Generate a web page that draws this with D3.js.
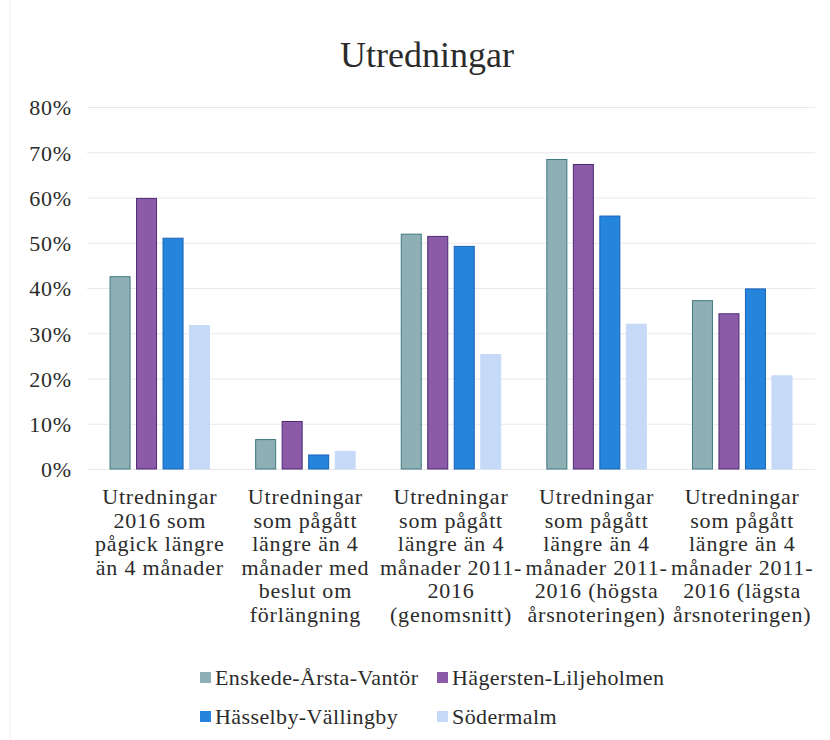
<html>
  <head>
    <script src="https://cdnjs.cloudflare.com/ajax/libs/d3/7.8.5/d3.min.js"></script>
    <style>
      body {
        margin: 0;
        background: #fff;
      }
      text {
        font-family: "Liberation Serif", "Times New Roman", serif;
        fill: #2b2b2b;
      }
    </style>
  </head>
  <body>
    <div id="container"></div>
    <script>
      const categories = [
        ["Utredningar", "2016 som", "pågick längre", "än 4 månader"],
        ["Utredningar", "som pågått", "längre än 4", "månader med", "beslut om", "förlängning"],
        ["Utredningar", "som pågått", "längre än 4", "månader 2011-", "2016", "(genomsnitt)"],
        ["Utredningar", "som pågått", "längre än 4", "månader 2011-", "2016  (högsta", "årsnoteringen)"],
        ["Utredningar", "som pågått", "längre än 4", "månader 2011-", "2016  (lägsta", "årsnoteringen)"],
      ];
      const seriesNames = [
        "Enskede-Årsta-Vantör",
        "Hägersten-Liljeholmen",
        "Hässelby-Vällingby",
        "Södermalm",
      ];
      const enskede = [0.425, 0.065, 0.519, 0.684, 0.372];
      const hagersten = [0.598, 0.105, 0.514, 0.673, 0.343];
      const hasselby = [0.51, 0.031, 0.492, 0.559, 0.398];
      const sodermalm = [0.317, 0.039, 0.253, 0.32, 0.206];
      const yTicks = [0, 0.1, 0.2, 0.3, 0.4, 0.5, 0.6, 0.7, 0.8];

      const fills = ["#8eb0b5", "#8b5ba7", "#2585dc", "#c6daf7"];
      const strokes = ["#3f7a80", "#4c2b76", "#1b62b6", "#c6daf7"];

      const w = 830;
      const h = 740;
      const plotLeft = 87;
      const plotRight = 815;
      const plotTop = 107;
      const plotBottom = 469;

      const allSeries = [enskede, hagersten, hasselby, sodermalm];

      const svg = d3
        .select("#container")
        .append("svg")
        .attr("width", w)
        .attr("height", h);

      // faint scan edge
      svg
        .append("line")
        .attr("x1", 10)
        .attr("x2", 10)
        .attr("y1", 0)
        .attr("y2", h)
        .attr("stroke", "#ececec");

      const x0 = d3
        .scaleBand()
        .domain(d3.range(categories.length))
        .range([plotLeft, plotRight]);

      const x1 = d3
        .scaleBand()
        .domain(d3.range(seriesNames.length))
        .range([0, 99.5])
        .paddingInner(0.245);

      const y = d3.scaleLinear().domain([0, 0.8]).range([plotBottom, plotTop]);

      svg
        .append("text")
        .attr("x", 427)
        .attr("y", 67)
        .attr("text-anchor", "middle")
        .style("font-size", "36px")
        .text("Utredningar");

      const yAxis = d3
        .axisLeft(y)
        .tickValues(yTicks)
        .tickSize(-(plotRight - plotLeft))
        .tickPadding(15)
        .tickFormat(d3.format(".0%"));

      const gy = svg
        .append("g")
        .attr("transform", "translate(" + plotLeft + ",0)")
        .call(yAxis);
      gy.select(".domain").remove();
      gy.selectAll(".tick line").attr("stroke", "#e9e9e9");
      gy.selectAll(".tick text")
        .style("font-size", "22px")
        .style("letter-spacing", "0.8px")
        .attr("dy", "0.36em");

      const groups = svg
        .append("g")
        .selectAll("g")
        .data(categories)
        .enter()
        .append("g")
        .attr(
          "transform",
          (d, i) =>
            "translate(" + (x0(i) + (x0.bandwidth() - 99.5) / 2) + ",0)"
        );

      groups
        .selectAll("rect")
        .data((d, i) => allSeries.map((s) => s[i]))
        .enter()
        .append("rect")
        .attr("x", (d, j) => x1(j))
        .attr("y", (d) => y(d))
        .attr("width", x1.bandwidth())
        .attr("height", (d) => y(0) - y(d))
        .attr("fill", (d, j) => fills[j])
        .attr("stroke", (d, j) => strokes[j])
        .attr("stroke-width", 1);

      const labels = svg
        .append("g")
        .selectAll("text")
        .data(categories)
        .enter()
        .append("text")
        .attr("text-anchor", "middle")
        .style("font-size", "22px")
        .style("letter-spacing", "0.8px");

      labels
        .selectAll("tspan")
        .data((d, i) => d.map((line) => ({ line, i })))
        .enter()
        .append("tspan")
        .attr("x", (d) => x0(d.i) + x0.bandwidth() / 2)
        .attr("y", (d, k) => 504 + k * 23.6)
        .text((d) => d.line);

      const legendPos = [
        [200, 685],
        [437, 685],
        [200, 724],
        [437, 724],
      ];

      const legend = svg
        .append("g")
        .selectAll("g")
        .data(seriesNames)
        .enter()
        .append("g")
        .attr(
          "transform",
          (d, i) =>
            "translate(" + legendPos[i][0] + "," + legendPos[i][1] + ")"
        );

      legend
        .append("rect")
        .attr("x", 0)
        .attr("y", -13)
        .attr("width", 11)
        .attr("height", 11)
        .attr("fill", (d, i) => fills[i]);

      legend
        .append("text")
        .attr("x", 15)
        .attr("y", 0)
        .style("font-size", "22px")
        .style("letter-spacing", "0.4px")
        .text((d) => d);
    </script>
  </body>
</html>
